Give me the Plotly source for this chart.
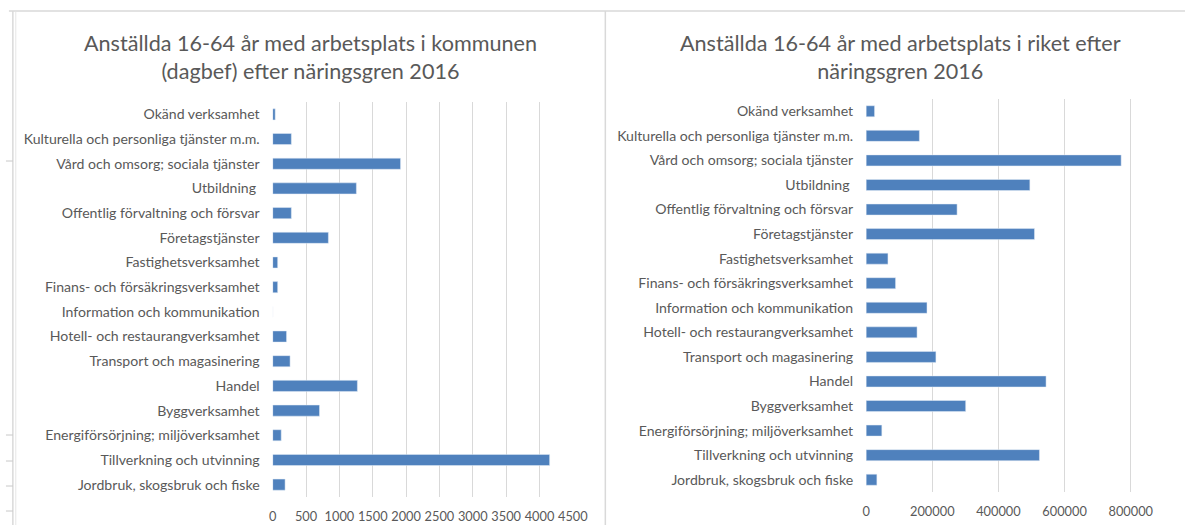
import plotly.graph_objects as go

# Categories listed bottom-up (as drawn from the axis origin upward)
categories = [
    "Jordbruk, skogsbruk och fiske",
    "Tillverkning och utvinning",
    "Energiförsörjning; miljöverksamhet",
    "Byggverksamhet",
    "Handel",
    "Transport och magasinering",
    "Hotell- och restaurangverksamhet",
    "Information och kommunikation",
    "Finans- och försäkringsverksamhet",
    "Fastighetsverksamhet",
    "Företagstjänster",
    "Offentlig förvaltning och försvar",
    "Utbildning ",
    "Vård och omsorg; sociala tjänster",
    "Kulturella och personliga tjänster m.m.",
    "Okänd verksamhet",
]

kommun_values = [186, 4152, 128, 702, 1270, 261, 208, 0, 75, 75, 835, 280, 1255, 1917, 280, 38]
riket_values = [32500, 524000, 47500, 301000, 544000, 211000, 154000, 184000,
                89000, 66000, 509000, 275000, 495000, 771000, 161000, 25500]

kommun_ticks = [0, 500, 1000, 1500, 2000, 2500, 3000, 3500, 4000, 4500]
riket_ticks = [0, 200000, 400000, 600000, 800000]

title_left = "Anställda 16-64 år med arbetsplats i kommunen<br>(dagbef) efter näringsgren 2016"
title_right = "Anställda 16-64 år med arbetsplats i riket efter<br>näringsgren 2016"

W, H = 1200, 525
BAR = "#4F81BD"
GRID = "#D9D9D9"
TXT = "#595959"
FONT = "Lato"

fig = go.Figure()
fig.add_trace(go.Bar(x=kommun_values, y=categories, orientation="h",
                     marker=dict(color=BAR), xaxis="x", yaxis="y",
                     showlegend=False))
fig.add_trace(go.Bar(x=riket_values, y=categories, orientation="h",
                     marker=dict(color=BAR), xaxis="x2", yaxis="y2",
                     showlegend=False))

def px_x(p):
    return p / W

def px_y(p):
    return 1 - p / H

catfont = dict(family=FONT, size=14.1, color=TXT)
numfont = dict(family=FONT, size=12.8, color=TXT)

fig.update_layout(
    width=W, height=H, autosize=False,
    margin=dict(l=0, r=0, t=0, b=0),
    paper_bgcolor="white", plot_bgcolor="white",
    bargap=0.55,
    font=dict(family=FONT, color=TXT),
    xaxis=dict(domain=[px_x(273), px_x(578)], range=[0, 4500],
               tickvals=kommun_ticks, ticktext=[str(v) for v in kommun_ticks],
               showgrid=True, gridcolor=GRID, gridwidth=1, zeroline=False,
               showline=False, ticks="", tickfont=numfont, tickangle=0, anchor="y",
               ticklabelstandoff=10),
    yaxis=dict(domain=[px_y(497), px_y(102)], type="category",
               showgrid=False, zeroline=False, showline=False, ticks="",
               tickfont=catfont, anchor="x", ticklabelstandoff=12),
    xaxis2=dict(domain=[px_x(876), 1.0], range=[0, 964000],
                tickvals=riket_ticks, ticktext=[str(v) for v in riket_ticks],
                showgrid=True, gridcolor=GRID, gridwidth=1, zeroline=False,
                showline=False, ticks="", tickfont=numfont, tickangle=0, anchor="y2",
                ticklabelstandoff=10),
    yaxis2=dict(domain=[px_y(492), px_y(99)], type="category",
                showgrid=False, zeroline=False, showline=False, ticks="",
                tickfont=catfont, anchor="x2", ticklabelstandoff=12),
)

# Chart titles
fig.add_annotation(text=title_left, x=px_x(311), y=px_y(57), xref="paper", yref="paper",
                   showarrow=False, xanchor="center", yanchor="middle",
                   font=dict(family=FONT, size=21.6, color=TXT), align="center")
fig.add_annotation(text=title_right, x=px_x(911), y=px_y(57), xref="paper", yref="paper",
                   showarrow=False, xanchor="center", yanchor="middle",
                   font=dict(family=FONT, size=21.6, color=TXT), align="center")

# Panel borders (spreadsheet chart frames)
line = dict(color="#D9D9D9", width=1.5)
fig.add_shape(type="line", xref="paper", yref="paper", x0=px_x(5), x1=1, y0=px_y(11), y1=px_y(11), line=line)
fig.add_shape(type="line", xref="paper", yref="paper", x0=px_x(9), x1=px_x(9), y0=px_y(11), y1=0, line=line)
fig.add_shape(type="line", xref="paper", yref="paper", x0=px_x(12), x1=px_x(12), y0=px_y(12), y1=0,
              line=dict(color="#E6E6E6", width=1))
fig.add_shape(type="line", xref="paper", yref="paper", x0=px_x(611), x1=px_x(611), y0=px_y(11), y1=0, line=line)
for yy in [161, 435, 461, 486, 511]:
    fig.add_shape(type="line", xref="paper", yref="paper", x0=px_x(2), x1=px_x(9), y0=px_y(yy), y1=px_y(yy),
                  line=dict(color="#C8C8C8", width=1))

fig.write_html("out.html",
               config={"displayModeBar": False, "responsive": False},
               post_script="document.body.style.margin='0';"
                           "document.documentElement.style.overflow='hidden';"
                           "document.body.style.overflow='hidden';")
